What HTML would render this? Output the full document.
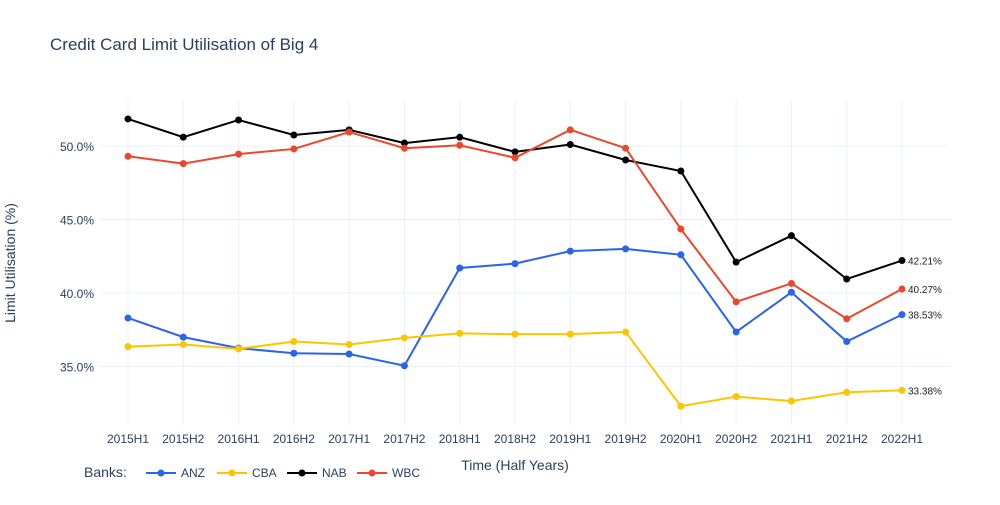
<!DOCTYPE html>
<html><head><meta charset="utf-8"><style>
body{margin:0;background:#fff;font-family:"Liberation Sans",sans-serif}
svg text{font-family:"Liberation Sans",sans-serif}
</style></head><body>
<svg id="chart" width="1000" height="500">
<text x="50" y="50" font-size="17" fill="#2a3f5f">Credit Card Limit Utilisation of Big 4</text>
<g id="grid"></g><g id="axes"></g><g id="series"></g><g id="legend"></g>
<text x="15" y="263" font-size="14" fill="#2a3f5f" transform="rotate(-90 15 263)" text-anchor="middle">Limit Utilisation (%)</text>
<text x="515" y="470" font-size="14" fill="#2a3f5f" text-anchor="middle">Time (Half Years)</text>
</svg>
<script>
const categories=["2015H1","2015H2","2016H1","2016H2","2017H1","2017H2","2018H1","2018H2","2019H1","2019H2","2020H1","2020H2","2021H1","2021H2","2022H1"];
const anz=[38.3,37.0,36.25,35.9,35.85,35.05,41.7,42.0,42.85,43.0,42.6,37.35,40.05,36.7,38.53];
const cba=[36.35,36.5,36.2,36.7,36.5,36.95,37.25,37.2,37.2,37.35,32.3,32.95,32.65,33.25,33.38];
const nab=[51.84,50.6,51.77,50.75,51.1,50.2,50.6,49.6,50.1,49.05,48.3,42.1,43.9,40.95,42.21];
const wbc=[49.3,48.8,49.45,49.8,50.95,49.85,50.05,49.2,51.1,49.85,44.35,39.4,40.65,38.25,40.27];
const yTicks=[35,40,45,50];
const seriesNames=["ANZ","CBA","NAB","WBC"];
const colors={ANZ:"#2b64ea",CBA:"#fdc500",NAB:"#000000",WBC:"#e9482c"};
const data={ANZ:anz,CBA:cba,NAB:nab,WBC:wbc};
const NS="http://www.w3.org/2000/svg";
const xS=i=>128+i*(902-128)/(categories.length-1);
const yS=v=>146-(v-50)*14.7;
function mk(t,a,p){const e=document.createElementNS(NS,t);for(const k in a)e.setAttribute(k,a[k]);p.appendChild(e);return e;}
const grid=document.getElementById('grid'),axes=document.getElementById('axes');
yTicks.forEach(v=>{
 const l=mk('line',{x1:100,x2:950,y1:yS(v),y2:yS(v),stroke:'#ebf0f8'},grid);
 
 
 const t=mk('text',{x:94,y:yS(v)+5,'font-size':12,fill:'#2a3f5f','text-anchor':'end'},axes);t.textContent=v.toFixed(1)+'%';
 
 
});
categories.forEach((c,i)=>{
 const l=mk('line',{x1:xS(i),x2:xS(i),y1:100,y2:425,stroke:'#ebf0f8'},grid);
 
 
 const t=mk('text',{x:xS(i),y:443,'font-size':12,fill:'#2a3f5f','text-anchor':'middle'},axes);t.textContent=c;
 
 
});
const sg=document.getElementById('series');
seriesNames.forEach(n=>{
 const vals=data[n],col=colors[n];
 const p=mk('polyline',{points:vals.map((v,i)=>xS(i)+','+yS(v)).join(' '),fill:'none',stroke:col,'stroke-width':2},sg);
 
 
 vals.forEach((v,i)=>{const c=mk('circle',{cx:xS(i),cy:yS(v),r:3.5,fill:col},sg);
  
  });
 const last=vals.length-1;
 const t=mk('text',{x:xS(last)+6,y:yS(vals[last])+4,'font-size':10,fill:'#222'},sg);t.textContent=vals[last].toFixed(2)+'%';
 
 
});
const lg=document.getElementById('legend');
const lt=mk('text',{x:84,y:477,'font-size':14,fill:'#2a3f5f'},lg);lt.textContent='Banks:';


const lx=[146,217,287,357];
seriesNames.forEach((n,k)=>{
 const g=mk('g',{},lg);
 
 
 mk('line',{x1:lx[k],x2:lx[k]+30,y1:473,y2:473,stroke:colors[n],'stroke-width':2},g);
 mk('circle',{cx:lx[k]+15,cy:473,r:3.5,fill:colors[n]},g);
 const t=mk('text',{x:lx[k]+35,y:477,'font-size':12,fill:'#2a3f5f'},g);t.textContent=n;
});
</script>
</body></html>
